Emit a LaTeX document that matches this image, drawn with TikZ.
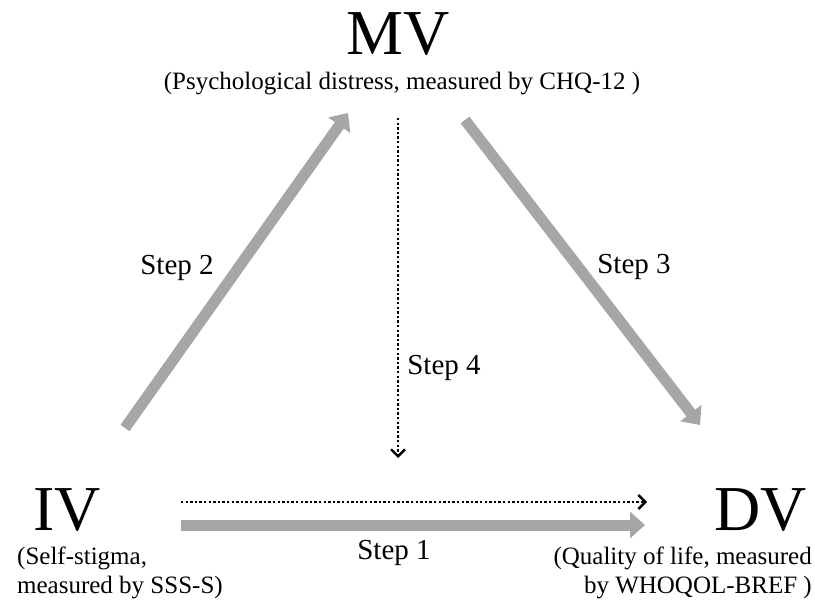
\documentclass[tikz,border=0pt]{standalone}
\usepackage{fontspec}
\setmainfont{Liberation Serif}
\usetikzlibrary{arrows.meta}
\definecolor{stepgray}{RGB}{166,166,166}

\tikzset{
  varname/.style={font=\fontsize{64}{64}\selectfont, inner sep=0pt},
  varnote/.style={font=\fontsize{25}{29}\selectfont, inner sep=0pt},
  steplabel/.style={font=\fontsize{29}{29}\selectfont, inner sep=0pt},
  grayarrow/.style={draw=stepgray, line width=11pt, -{Triangle[length=15pt,width=26pt]}},
  dotarrow/.style={line width=2.6pt, dash pattern=on 2.4pt off 2.2pt,
    -{Straight Barb[length=7pt,width=14pt,line width=2.4pt]}}
}

\begin{document}
\begin{tikzpicture}[x=1pt,y=-1pt]
\useasboundingbox (0,0) rectangle (815,602);

% the three variables
  \node[varname, anchor=base] (mv) at (398,55) {MV};
  \node[varnote, anchor=base] (mvnote) at (402,90) {(Psychological distress, measured by CHQ-12 )};
  \node[varname, anchor=base] (iv) at (67,530) {IV};
  \node[varnote, anchor=north west, align=left] (ivnote) at (17,547) {(Self-stigma,\\measured by SSS-S)};
  \node[varname, anchor=base] (dv) at (761,530) {DV};
  \node[varnote, anchor=north east, align=right] (dvnote) at (812,547) {(Quality of life, measured\\by WHOQOL-BREF )};

% arrow ends
  \coordinate (s1a) at (181,525);
  \coordinate (s1b) at (645,525);
  \coordinate (s2a) at (125,428);
  \coordinate (s2b) at (348,113);
  \coordinate (s3a) at (465,120);
  \coordinate (s3b) at (700,425);
  \coordinate (s4a) at (398,118);
  \coordinate (s4b) at (398,458);
  \coordinate (ca) at (181,502);
  \coordinate (cb) at (647,502);

% gray step arrows
  \draw[grayarrow] (s1a) -- (s1b);
  \draw[grayarrow] (s2a) -- (s2b);
  \draw[grayarrow] (s3a) -- (s3b);
% dotted arrows
  \draw[dotarrow] (s4a) -- (s4b);
  \draw[dotarrow] (ca) -- (cb);

% step labels
  \node[steplabel] (step1) at (394,553) {Step 1};
  \node[steplabel] (step2) at (177,268) {Step 2};
  \node[steplabel] (step3) at (634,267) {Step 3};
  \node[steplabel] (step4) at (444,368) {Step 4};
\end{tikzpicture}
\end{document}
